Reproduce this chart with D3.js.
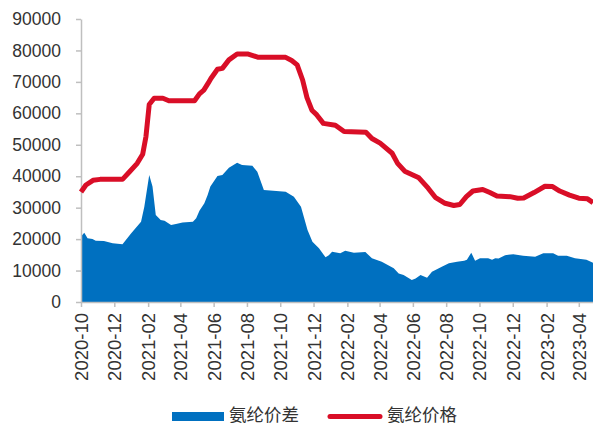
<!DOCTYPE html>
<html>
<head>
<meta charset="utf-8">
<script src="https://cdn.jsdelivr.net/npm/d3@7"></script>
<style>
  body { margin: 0; background: #fff; }
  svg { display: block; }
</style>
</head>
<body>
<svg id="chart" width="593" height="424"></svg>
<script>
// 氨纶价差 (spread) — dates and values
const spreadDates = [
  "2020-10-01","2020-10-07","2020-10-13","2020-10-22","2020-10-28","2020-11-12","2020-11-28","2020-12-16",
  "2021-01-01","2021-01-19","2021-01-25","2021-02-03","2021-02-09","2021-02-15","2021-02-24","2021-03-03",
  "2021-03-15","2021-03-24","2021-04-05","2021-04-24","2021-04-30","2021-05-06","2021-05-15","2021-05-21",
  "2021-05-26","2021-06-08","2021-06-17","2021-06-29","2021-07-14","2021-07-23","2021-08-11","2021-08-20",
  "2021-09-01","2021-10-11","2021-10-26","2021-11-08","2021-11-20","2021-11-29","2021-12-11","2021-12-23",
  "2021-12-29","2022-01-04","2022-01-19","2022-01-28","2022-02-13","2022-03-06","2022-03-18","2022-04-05",
  "2022-04-27","2022-05-06","2022-05-15","2022-05-30","2022-06-06","2022-06-15","2022-06-27","2022-07-06",
  "2022-07-24","2022-08-06","2022-08-21","2022-09-03","2022-09-08","2022-09-16","2022-09-23","2022-10-02",
  "2022-10-17","2022-10-24","2022-10-30","2022-11-05","2022-11-17","2022-12-02","2022-12-20","2023-01-11",
  "2023-01-26","2023-02-13","2023-02-22","2023-03-10","2023-03-25","2023-04-15","2023-04-27"
];
const spreadValues = [
  20800,22000,20300,20000,19500,19400,18700,18400,
  21900,25500,30300,40400,36700,27700,26100,25800,
  24500,24800,25300,25500,26600,29000,31400,34000,
  36700,40100,40400,42700,44300,43600,43300,41400,
  35600,35100,33500,30300,22900,19200,17100,14200,
  14900,16000,15500,16300,15700,15900,13900,12800,
  10700,9100,8600,7000,7500,8600,7700,9600,
  11200,12300,12800,13100,13400,15700,13100,13900,
  13900,13400,13900,13800,14900,15200,14700,14400,
  15500,15500,14700,14700,13900,13400,12500
];

// 氨纶价格 (price) — dates and values
const priceDates = [
  "2020-10-01","2020-10-10","2020-10-23","2020-11-05","2020-12-16","2020-12-29","2021-01-12","2021-01-22",
  "2021-01-28","2021-02-03","2021-02-12","2021-02-28","2021-03-11","2021-04-27","2021-05-06","2021-05-14",
  "2021-05-22","2021-05-27","2021-06-08","2021-06-17","2021-06-29","2021-07-14","2021-08-02","2021-08-22",
  "2021-10-11","2021-10-22","2021-11-01","2021-11-11","2021-11-19","2021-11-28","2021-12-07","2021-12-19",
  "2022-01-10","2022-01-26","2022-03-07","2022-03-18","2022-04-02","2022-04-24","2022-05-04","2022-05-17",
  "2022-06-12","2022-06-29","2022-07-12","2022-07-30","2022-08-15","2022-08-26","2022-09-07","2022-09-19",
  "2022-10-07","2022-10-20","2022-11-02","2022-11-26","2022-12-10","2022-12-21","2023-01-09","2023-01-29",
  "2023-02-12","2023-02-25","2023-03-15","2023-04-01","2023-04-17","2023-04-27"
];
const priceValues = [
  35000,37200,38700,39000,39000,41400,44100,47000,
  52600,62800,64800,64800,64000,64000,66200,67400,
  69600,71100,74000,74300,77000,78900,78900,77800,
  77800,76800,75400,70600,65000,61000,59500,56800,
  56200,54200,54000,52000,50500,47300,44100,41600,
  39500,36200,33300,31400,30700,31000,33500,35300,
  35800,34800,33700,33500,33000,33100,34800,36800,
  36700,35300,34000,33000,32800,31600
];

const yTickValues = [0,10000,20000,30000,40000,50000,60000,70000,80000,90000];
const xTickLabels = [
  "2020-10","2020-12","2021-02","2021-04","2021-06","2021-08","2021-10","2021-12",
  "2022-02","2022-04","2022-06","2022-08","2022-10","2022-12","2023-02","2023-04"
];
const seriesNames = ["氨纶价差", "氨纶价格"];
const seriesColors = ["#0070c0", "#d90e27"];

const parseDay = d3.timeParse("%Y-%m-%d");
const parseMonth = d3.timeParse("%Y-%m");

const spread = spreadDates.map((d, i) => ({ date: parseDay(d), value: spreadValues[i] }));
const price = priceDates.map((d, i) => ({ date: parseDay(d), value: priceValues[i] }));

const svg = d3.select("#chart");
const plotLeft = 81, plotRight = 593, plotTop = 19, plotBottom = 302;

const x = d3.scaleTime()
  .domain([parseDay("2020-10-01"), parseDay("2023-04-27")])
  .range([plotLeft, plotRight]);
const y = d3.scaleLinear().domain([0, 90000]).range([plotBottom, plotTop]);

// spread area
svg.append("path")
  .datum(spread)
  .attr("fill", seriesColors[0])
  .attr("d", d3.area().x(d => x(d.date)).y0(y(0)).y1(d => y(d.value)));

// axes
const axisColor = "#bfbfbf";
const labelFont = "'Liberation Sans', Arial, sans-serif";

const yAxis = svg.append("g")
  .attr("transform", `translate(${plotLeft},0)`)
  .call(d3.axisLeft(y).tickValues(yTickValues).tickSize(5).tickSizeOuter(0).tickPadding(15).tickFormat(d3.format("d")));
yAxis.select(".domain").attr("stroke", axisColor).attr("stroke-width", 1.5);
yAxis.selectAll(".tick line").attr("stroke", axisColor).attr("stroke-width", 1.5);
yAxis.selectAll("text").attr("fill", "#333").style("font-family", labelFont).style("font-size", "17.5px");

const xAxis = svg.append("g")
  .attr("transform", `translate(0,${plotBottom})`)
  .call(d3.axisBottom(x).tickValues(xTickLabels.map(parseMonth)).tickSize(5).tickSizeOuter(0).tickFormat(d3.timeFormat("%Y-%m")));
xAxis.select(".domain").attr("stroke", axisColor).attr("stroke-width", 1.5);
xAxis.selectAll(".tick line").attr("stroke", axisColor).attr("stroke-width", 1.5);
xAxis.selectAll("text")
  .attr("fill", "#333")
  .style("font-family", labelFont)
  .style("font-size", "18.5px")
  .attr("transform", "rotate(-90)")
  .attr("text-anchor", "end")
  .attr("x", -11)
  .attr("y", 0)
  .attr("dy", "0.35em");

// price line
svg.append("path")
  .datum(price)
  .attr("fill", "none")
  .attr("stroke", seriesColors[1])
  .attr("stroke-width", 5)
  .attr("stroke-linejoin", "round")
  .attr("d", d3.line().x(d => x(d.date)).y(d => y(d.value)));

// legend
const legendFont = "'Noto Sans CJK SC', sans-serif";
const lg = svg.append("g");
lg.append("rect").attr("x", 172).attr("y", 412).attr("width", 52).attr("height", 9).attr("fill", seriesColors[0]);
lg.append("text").attr("x", 229).attr("y", 421)
  .style("font-family", legendFont).style("font-size", "17.5px").attr("fill", "#333").text(seriesNames[0]);
lg.append("line").attr("x1", 330).attr("x2", 380).attr("y1", 416.5).attr("y2", 416.5)
  .attr("stroke", seriesColors[1]).attr("stroke-width", 5).attr("stroke-linecap", "round");
lg.append("text").attr("x", 387).attr("y", 421)
  .style("font-family", legendFont).style("font-size", "17.5px").attr("fill", "#333").text(seriesNames[1]);
</script>
</body>
</html>
